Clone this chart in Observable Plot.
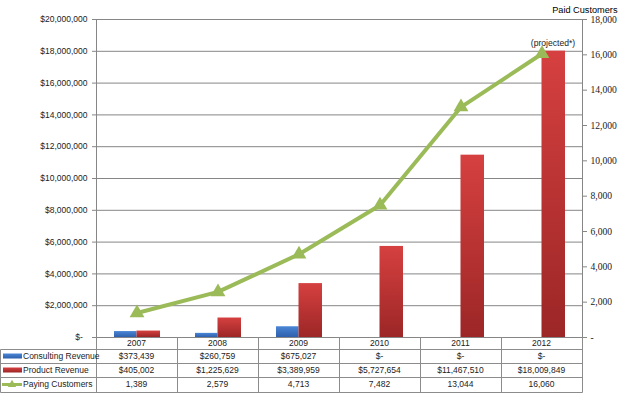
<!DOCTYPE html>
<html>
<head>
<meta charset="utf-8">
<script src="https://cdn.jsdelivr.net/npm/d3@7"></script>
<script src="https://cdn.jsdelivr.net/npm/@observablehq/plot@0.6"></script>
<style>
  html, body { margin: 0; padding: 0; background: #fff; }
  #chart svg { display: block; overflow: visible; }
</style>
</head>
<body>
<div id="chart"></div>
<script>
const years = ["2007", "2008", "2009", "2010", "2011", "2012"];
const consulting = [373439, 260759, 675027, 0, 0, 0];
const product = [405002, 1225629, 3389959, 5727654, 11467510, 18009849];
const customers = [1389, 2579, 4713, 7482, 13044, 16060];
const leftTicks = [0, 2e6, 4e6, 6e6, 8e6, 10e6, 12e6, 14e6, 16e6, 18e6, 20e6];
const rightTicks = [0, 2000, 4000, 6000, 8000, 10000, 12000, 14000, 16000, 18000];
const seriesNames = ["Consulting Revenue", "Product Revenue", "Paying Customers"];
const rightTitle = "Paid Customers";
const note = "(projected*)";

const DMAX = 20e6, CMAX = 18000;
const k = DMAX / CMAX;
const rows = years.map((y, i) => ({year: y, consulting: consulting[i], product: product[i], customers: customers[i]}));

const fmtD = v => v === 0 ? "$-" : "$" + d3.format(",")(v);
const fmtC = v => v === 0 ? "-" : d3.format(",")(v);

const FONT = "'Liberation Sans', Arial, sans-serif";
const FS = 8.5;
const GRID = "#868686";
const GREEN = "#9BBB59";

const svg = Plot.plot({
  width: 620, height: 398,
  marginLeft: 96, marginRight: 38, marginTop: 19, marginBottom: 61,
  x: {type: "band", domain: years, padding: 0, axis: null},
  y: {domain: [0, DMAX], axis: null},
  style: {fontFamily: FONT, fontSize: FS + "px", background: "transparent", overflow: "visible"},
  marks: [
    Plot.gridY(leftTicks, {stroke: GRID, strokeOpacity: 1}),
    Plot.axisY(leftTicks, {anchor: "left", tickFormat: v => v === 0 ? "$-\u2007" : fmtD(v), tickSize: 4, tickPadding: 5, stroke: GRID, fill: "#222", label: null}),
    Plot.axisY(rightTicks.map(v => v * k), {anchor: "right", tickFormat: v => fmtC(Math.round(v / k)), tickSize: 4, tickPadding: 4, stroke: GRID, fill: "#222", label: null, fontFamily: "'Liberation Serif', serif", fontSize: 9.6}),
    Plot.frame({anchor: "left", stroke: GRID}),
    Plot.frame({anchor: "right", stroke: GRID}),
    Plot.barY(rows, {x: "year", y: "consulting", fill: "url(#gBlue)", insetLeft: 18, insetRight: 40.5}),
    Plot.barY(rows, {x: "year", y: "product", fill: "url(#gRed)", insetLeft: 40.5, insetRight: 17}),
    Plot.line(rows, {x: "year", y: d => d.customers * k, stroke: GREEN, strokeWidth: 4}),
    Plot.dot(rows, {x: "year", y: d => d.customers * k, symbol: "triangle", fill: GREEN, r: 5.5}),
    Plot.text(rows.filter(d => d.year === "2012"), {x: "year", y: d => d.customers * k, text: () => note, dx: 11, dy: -11, fontSize: 8.6, fill: "#222"}),
    Plot.text([rightTitle], {frameAnchor: "top-right", textAnchor: "end", dx: 35, dy: -13, fontFamily: FONT, fontSize: 9.2, fill: "#000"})
  ]
});

// gradients
const defs = d3.select(svg).insert("defs", ":first-child");
function grad(id, top, bottom) {
  const g = defs.append("linearGradient").attr("id", id).attr("x1", 0).attr("y1", 0).attr("x2", 0).attr("y2", 1);
  g.append("stop").attr("offset", "0%").attr("stop-color", top);
  g.append("stop").attr("offset", "100%").attr("stop-color", bottom);
}
grad("gBlue", "#4A86D6", "#2E60AC");
grad("gRed", "#D64040", "#9C2626");

// data table below the plot, laid out from the x scale
const xs = svg.scale("x");
const bw = xs.bandwidth;
const ys = svg.scale("y");
const y0 = ys.apply(0);
const TABLE = "#8C8C8C";
const rowH = [12, 14, 14, 15];
const rowTop = [y0];
for (let i = 0; i < rowH.length; i++) rowTop.push(rowTop[i] + rowH[i]);
const xLeft = years.map(y => xs.apply(y));
const xEnd = xLeft[xLeft.length - 1] + bw;
const tg = d3.select(svg).append("g").attr("font-family", FONT).attr("font-size", FS).attr("fill", "#222");

for (let r = 1; r < rowTop.length; r++) {
  tg.append("line").attr("x1", 0.5).attr("x2", xEnd + 0.5).attr("y1", Math.round(rowTop[r]) + 0.5).attr("y2", Math.round(rowTop[r]) + 0.5).attr("stroke", TABLE);
}
const vx = [...xLeft, xEnd];
vx.forEach(x => tg.append("line").attr("x1", Math.round(x) + 0.5).attr("x2", Math.round(x) + 0.5).attr("y1", y0).attr("y2", Math.round(rowTop[4]) + 0.5).attr("stroke", TABLE));
tg.append("line").attr("x1", 0.5).attr("x2", 0.5).attr("y1", Math.round(rowTop[1]) + 0.5).attr("y2", Math.round(rowTop[4]) + 0.5).attr("stroke", TABLE);

const mid = r => (rowTop[r] + rowTop[r + 1]) / 2;
years.forEach((y, i) => tg.append("text").attr("x", xLeft[i] + bw / 2).attr("y", mid(0)).attr("dy", "0.35em").attr("text-anchor", "middle").text(y));
const tableRows = [consulting.map(fmtD), product.map(fmtD), customers.map(fmtC)];
tableRows.forEach((vals, r) => vals.forEach((v, i) => tg.append("text").attr("x", xLeft[i] + bw / 2).attr("y", mid(r + 1)).attr("dy", "0.35em").attr("text-anchor", "middle").text(v)));

seriesNames.forEach((name, r) => {
  const cy = mid(r + 1);
  if (r === 0) tg.append("rect").attr("x", 3).attr("y", cy - 2.5).attr("width", 19).attr("height", 5).attr("fill", "url(#gBlue)");
  if (r === 1) tg.append("rect").attr("x", 3).attr("y", cy - 2.5).attr("width", 19).attr("height", 5).attr("fill", "url(#gRed)");
  if (r === 2) {
    tg.append("line").attr("x1", 2).attr("x2", 22).attr("y1", cy).attr("y2", cy).attr("stroke", GREEN).attr("stroke-width", 3);
    tg.append("path").attr("d", d3.symbol(d3.symbolTriangle, 30)()).attr("transform", `translate(12,${cy})`).attr("fill", GREEN);
  }
  tg.append("text").attr("x", 23).attr("y", cy).attr("dy", "0.35em").attr("text-anchor", "start").text(name);
});

document.getElementById("chart").appendChild(svg);
</script>
</body>
</html>
